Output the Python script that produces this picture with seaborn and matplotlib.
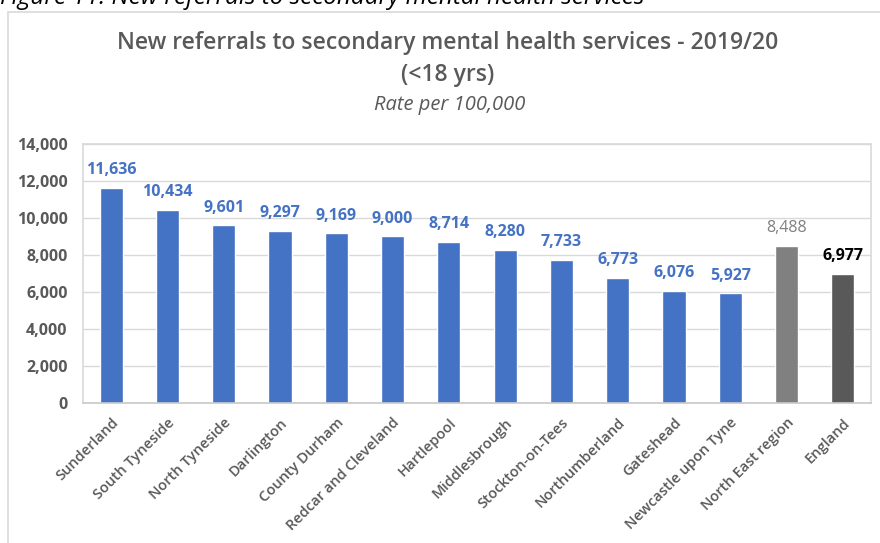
import matplotlib
matplotlib.use("Agg")
import matplotlib.pyplot as plt
import matplotlib.patches as mpatches
import seaborn as sns
import pandas as pd

areas = ["Sunderland", "South Tyneside", "North Tyneside", "Darlington",
         "County Durham", "Redcar and Cleveland", "Hartlepool", "Middlesbrough",
         "Stockton-on-Tees", "Northumberland", "Gateshead", "Newcastle upon Tyne",
         "North East region", "England"]
rates = [11636, 10434, 9601, 9297, 9169, 9000, 8714, 8280, 7733, 6773,
         6076, 5927, 8488, 6977]
groups = ["Local authority"] * 12 + ["Region", "National"]
yticks = [0, 2000, 4000, 6000, 8000, 10000, 12000, 14000]

bar_colors = {"Local authority": "#4472C4", "Region": "#808080", "National": "#595959"}
label_colors = {"Local authority": "#4472C4", "Region": "#808080", "National": "#000000"}

df = pd.DataFrame({"area": areas, "rate": rates, "group": groups})

sns.set_theme(style="white")
plt.rcParams["font.family"] = ["Open Sans", "DejaVu Sans"]

fig = plt.figure(figsize=(8.8, 5.43), dpi=100)
ax = fig.add_axes([83 / 880, 1 - 403 / 543, (871 - 83) / 880, (403 - 144) / 543])

sns.barplot(data=df, x="area", y="rate", hue="group", palette=bar_colors,
            dodge=False, width=0.41, legend=False, ax=ax, saturation=1)

ax.set_xlim(-0.5, len(areas) - 0.5)
ax.set_ylim(0, 14000)
ax.set_yticks(yticks)
ax.set_yticklabels([f"{v:,}" for v in yticks], fontsize=11.5, color="#595959",
                   fontweight="bold")
ax.set_xticks(range(len(areas)))
ax.set_xticklabels(areas, rotation=45, ha="right", rotation_mode="anchor",
                   fontsize=10.5, color="#595959", fontweight="semibold")
ax.tick_params(axis="y", length=0, pad=11)
ax.tick_params(axis="x", length=0, pad=9)
ax.set_xlabel("")
ax.set_ylabel("")
ax.grid(axis="y", color="#D9D9D9", linewidth=1)
ax.set_axisbelow(True)
for side in ["left", "right", "top"]:
    ax.spines[side].set_color("#D9D9D9")
    ax.spines[side].set_linewidth(1.2)
ax.spines["bottom"].set_color("#C8C8C8")
ax.spines["bottom"].set_linewidth(1.2)

for i, (v, g) in enumerate(zip(rates, groups)):
    weight = "normal" if g == "Region" else "bold"
    ax.annotate(f"{v:,}", (i, v), xytext=(0, 7), textcoords="offset points",
                ha="center", va="bottom", fontsize=11.5, color=label_colors[g],
                fontweight=weight)

fig.text(448 / 880, 1 - 43 / 543, "New referrals to secondary mental health services - 2019/20",
         ha="center", va="center", fontsize=16.5, fontweight="semibold", color="#595959")
fig.text(448 / 880, 1 - 75 / 543, "(<18 yrs)", ha="center", va="center",
         fontsize=16.5, fontweight="semibold", color="#595959")
fig.text(450 / 880, 1 - 105 / 543, "Rate per 100,000", ha="center", va="center",
         fontsize=14.5, style="italic", color="#595959")

fig.text(0, 1 - 4 / 543, "Figure 11: New referrals to secondary mental health services",
         ha="left", va="baseline", fontsize=17.5, style="italic", color="#000000")

fig.patches.append(mpatches.Rectangle((8 / 880, -0.01), 1.0, 1 - 12 / 543 + 0.01,
                                      transform=fig.transFigure, fill=False,
                                      edgecolor="#D9D9D9", linewidth=1.2))

fig.savefig("out.png", dpi=100)
